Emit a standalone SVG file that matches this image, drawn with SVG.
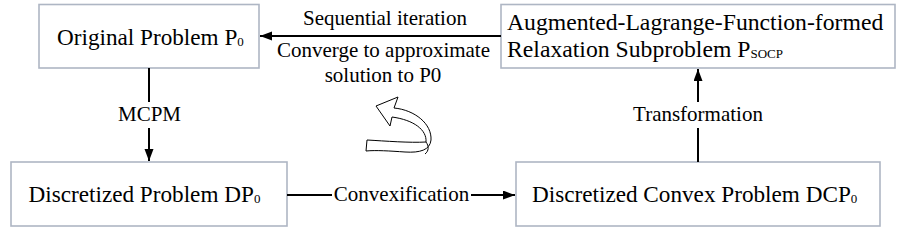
<svg xmlns="http://www.w3.org/2000/svg" width="906" height="227" viewBox="0 0 906 227">
<defs>
<style>
.box{fill:#ffffff;stroke:#aeb6c4;stroke-width:1.6}
.bt{font-family:'Liberation Serif','Times New Roman',serif;font-size:23.2px;fill:#000}
.bt2{font-size:23.7px}
.lb{font-family:'Liberation Serif','Times New Roman',serif;font-size:21px;fill:#000}
.sub{font-size:13px}
.ln{stroke:#000;stroke-width:2;fill:none}
</style>
<marker id="ah" markerUnits="userSpaceOnUse" markerWidth="13" markerHeight="10" refX="12" refY="4.5" orient="auto">
<path d="M0,0 L12,4.5 L0,9 Z" fill="#000"/>
</marker>
</defs>
<rect width="906" height="227" fill="#ffffff"/>
<g id="original">
<rect class="box" x="39" y="4.5" width="220" height="63.5"/>
<text class="bt" x="57" y="44.5">Original Problem P<tspan class="sub" dy="1">0</tspan></text>
</g>
<g id="augmented">
<rect class="box" x="501" y="4.5" width="394" height="63.5"/>
<text class="bt bt2" x="507" y="29.5">Augmented-Lagrange-Function-formed</text>
<text class="bt bt2" x="507" y="57">Relaxation Subproblem P<tspan class="sub" dy="1">SOCP</tspan></text>
</g>
<g id="discretized">
<rect class="box" x="11" y="162" width="276" height="64"/>
<text class="bt" x="28.5" y="202">Discretized Problem DP<tspan class="sub" dy="1">0</tspan></text>
</g>
<g id="dcp">
<rect class="box" x="516" y="162" width="364" height="64"/>
<text class="bt" x="532" y="202">Discretized Convex Problem DCP<tspan class="sub" dy="1">0</tspan></text>
</g>
<g id="connectors">
<line class="ln" x1="501" y1="36" x2="260" y2="36" marker-end="url(#ah)"/>
<text class="lb" x="385" y="25" text-anchor="middle">Sequential iteration</text>
<text class="lb" x="383.5" y="57" text-anchor="middle">Converge to approximate</text>
<text class="lb" x="383" y="82" text-anchor="middle">solution to P0</text>
<line class="ln" x1="149" y1="68" x2="149" y2="102"/>
<line class="ln" x1="149" y1="128" x2="149" y2="161" marker-end="url(#ah)"/>
<text class="lb" x="149.5" y="121" text-anchor="middle">MCPM</text>
<line class="ln" x1="287" y1="195" x2="332" y2="195"/>
<line class="ln" x1="471" y1="195" x2="515" y2="195" marker-end="url(#ah)"/>
<text class="lb" x="401.5" y="201" text-anchor="middle">Convexification</text>
<line class="ln" x1="698" y1="162" x2="698" y2="128"/>
<line class="ln" x1="698" y1="102" x2="698" y2="69" marker-end="url(#ah)"/>
<text class="lb" x="698" y="121" text-anchor="middle">Transformation</text>
</g>
<g id="loop-icon" fill="#ffffff" stroke="#000" stroke-width="1" stroke-linejoin="round">
<path d="M376,106 L398,97 L394,108 C415,110 432,124 431,140 C430,150 420,153 405,152 C390,151 376,150 366,151 L367,140 C385,141 410,143 426,142 C427,130 414,120 392,117 L390,126 Z"/>
<path d="M426,142 C429,146 429,151 425,154" fill="none"/>
</g>
</svg>
